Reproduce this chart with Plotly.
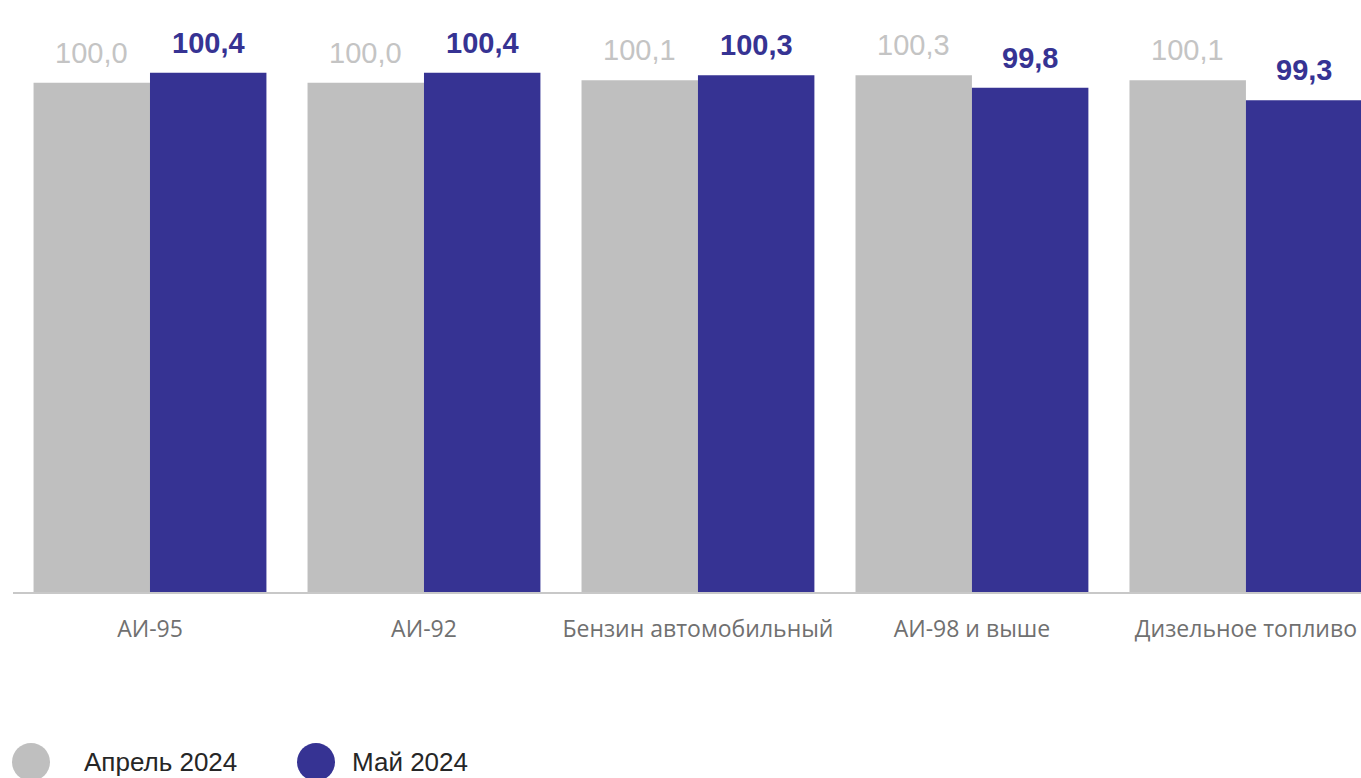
import plotly.graph_objects as go

categories = ["АИ-95", "АИ-92", "Бензин автомобильный", "АИ-98 и выше", "Дизельное топливо"]
april = [100.0, 100.0, 100.1, 100.3, 100.1]
may = [100.4, 100.4, 100.3, 99.8, 99.3]
series_names = ["Апрель 2024", "Май 2024"]

GREY = "#BFBFBF"
BLUE = "#363393"

fig = go.Figure()
fig.add_trace(go.Bar(x=categories, y=april, name=series_names[0], marker_color=GREY,
                     marker_line_width=0, showlegend=False, hoverinfo="skip"))
fig.add_trace(go.Bar(x=categories, y=may, name=series_names[1], marker_color=BLUE,
                     marker_line_width=0, showlegend=False, hoverinfo="skip"))

def fmt(v):
    return f"{v:.1f}".replace(".", ",")

off = 0.85 / 4
annotations = []
for i, (a, m) in enumerate(zip(april, may)):
    annotations.append(dict(x=i - off, y=a, xref="x", yref="y", text=fmt(a), showarrow=False,
                            yanchor="bottom", yshift=12,
                            font=dict(family="Liberation Sans, Arial", size=29, color="#C4C4C4")))
    annotations.append(dict(x=i + off, y=m, xref="x", yref="y", text="<b>" + fmt(m) + "</b>",
                            showarrow=False, yanchor="bottom", yshift=12,
                            font=dict(family="Liberation Sans, Arial", size=29, color=BLUE)))

# custom legend (circles + text)
L, T, B, W = 13, 40, 186, 1348
H = 778 - T - B
leg_y = (592 - 762) / H
legend_items = [(31, GREY, 82), (316, BLUE, 350)]
shapes = []
for (cx, col, tx), name in zip(legend_items, series_names):
    px = (cx - L) / W
    shapes.append(dict(type="circle", xref="paper", yref="paper", xsizemode="pixel", ysizemode="pixel",
                       xanchor=px, yanchor=leg_y, x0=-19, x1=19, y0=-19, y1=19,
                       fillcolor=col, line=dict(width=0)))
    annotations.append(dict(x=(tx - L) / W, y=leg_y, xref="paper", yref="paper", text=name,
                            showarrow=False, xanchor="left", yanchor="middle",
                            font=dict(family="Liberation Sans, Arial", size=26, color="#262626")))

fig.update_layout(
    width=1361, height=778,
    margin=dict(l=L, r=0, t=T, b=B),
    plot_bgcolor="white", paper_bgcolor="white",
    barmode="group", bargap=0.15, bargroupgap=0,
    annotations=annotations, shapes=shapes,
    showlegend=False,
)
fig.update_xaxes(range=[-0.5, 4.42], showline=True, linecolor="#C8C8C8", linewidth=2,
                 ticks="outside", ticklen=15, tickcolor="rgba(0,0,0,0)",
                 tickfont=dict(family="Open Sans", size=23, color="#707070"),
                 showgrid=False, zeroline=False)
fig.update_yaxes(range=[79.63, 101.71], visible=False, showgrid=False, zeroline=False)

fig.write_html("out.html", config={"displayModeBar": False},
               post_script="document.body.style.margin='0';document.body.style.overflow='hidden';")
